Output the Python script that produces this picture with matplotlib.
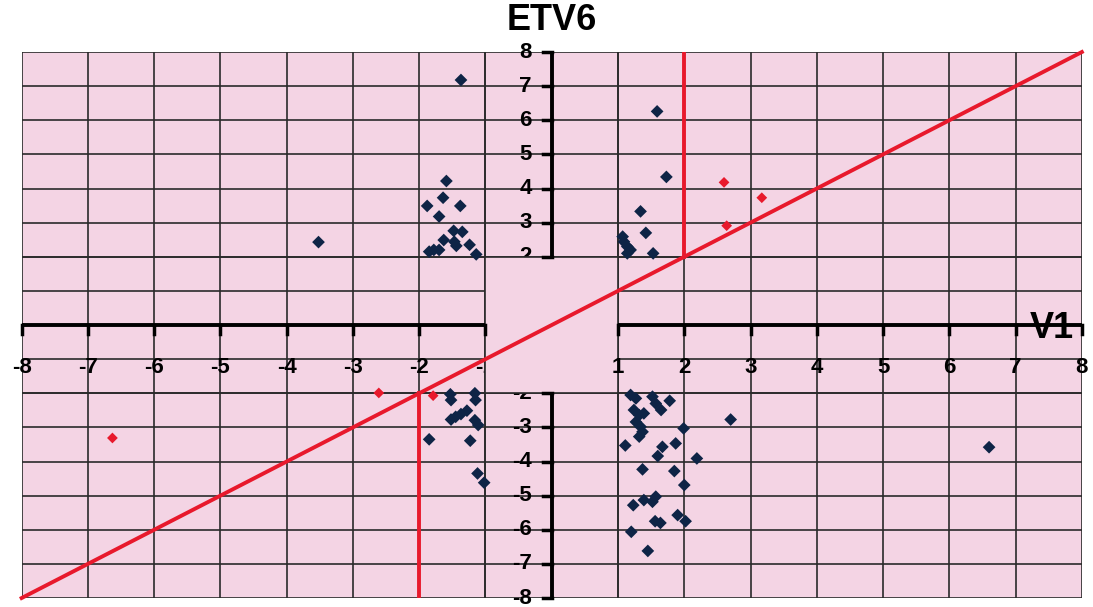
import numpy as np
import matplotlib.pyplot as plt
from matplotlib.patches import Rectangle

plt.rcParams['font.family'] = ['Liberation Sans', 'DejaVu Sans']

# Black points: V1 vs ETV6 values
blue_x = [-1.37, -3.52, -1.59, -1.64, -1.88, -1.38, -1.70, -1.48, -1.35, -1.63,
          -1.47, -1.44, -1.24, -1.14, -1.85, -1.78, -1.70,
          1.59, 1.73, 1.34, 1.42, 1.07, 1.09, 1.14, 1.19, 1.14, 1.53,
          -1.53, -1.52, -1.16, -1.15, -1.52, -1.45, -1.37, -1.28, -1.16, -1.11,
          -1.85, -1.23, -1.12, -1.02,
          1.19, 1.27, 1.52, 1.57, 1.65, 1.24, 1.32, 1.39, 1.27, 1.34, 1.37, 1.32,
          1.78, 2.70, 1.99, 1.11, 1.67, 1.87, 1.60, 2.19, 1.37, 1.85, 2.00,
          1.57, 1.52, 1.39, 1.23, 1.90, 2.02, 1.56, 1.64, 1.20, 1.45, 6.60]
blue_y = [7.18, 2.43, 4.22, 3.73, 3.49, 3.49, 3.18, 2.76, 2.73, 2.49,
          2.44, 2.32, 2.35, 2.07, 2.15, 2.20, 2.20,
          6.26, 4.34, 3.33, 2.70, 2.59, 2.44, 2.30, 2.20, 2.10, 2.10,
          -2.03, -2.20, -2.00, -2.20, -2.77, -2.69, -2.61, -2.51, -2.79, -2.93,
          -3.35, -3.39, -4.35, -4.62,
          -2.05, -2.15, -2.10, -2.30, -2.49, -2.49, -2.64, -2.59, -2.84, -2.98, -3.13, -3.27,
          -2.22, -2.77, -3.03, -3.53, -3.57, -3.47, -3.84, -3.91, -4.23, -4.28, -4.69,
          -5.03, -5.18, -5.13, -5.28, -5.57, -5.75, -5.75, -5.80, -6.06, -6.62, -3.58]

# Red points
red_x = [2.60, 3.17, 2.64, -2.61, -1.79, -6.63]
red_y = [4.18, 3.73, 2.91, -1.99, -2.07, -3.31]

x_ticks = [-8, -7, -6, -5, -4, -3, -2, -1, 1, 2, 3, 4, 5, 6, 7, 8]
y_ticks = [-8, -7, -6, -5, -4, -3, -2, 2, 3, 4, 5, 6, 7, 8]

RED = '#e8192c'
NAVY = '#0e2446'
PINK = '#f4d4e4'

fig = plt.figure(figsize=(10.93, 6.07), dpi=100)
ax = fig.add_axes([0.0198, 0.0148, 0.9700, 0.8995])
ax.set_xlim(-8, 8)
ax.set_ylim(-8, 8)
ax.set_facecolor(PINK)
for s in ax.spines.values():
    s.set_visible(False)
ax.set_xticks([])
ax.set_yticks([])

# grid every unit
for v in range(-8, 9):
    ax.axvline(v, color='#2a2a2a', lw=1.2, zorder=1)
    ax.axhline(v, color='#2a2a2a', lw=1.2, zorder=1)

# empty centre block
ax.add_patch(Rectangle((-1, -2), 2, 4, facecolor=PINK, edgecolor='none', zorder=2.5))
for v in (-1, 1):
    ax.axvline(v, color='#2a2a2a', lw=1.2, zorder=2.6)
for v in (-2, 2):
    ax.axhline(v, color='#2a2a2a', lw=1.2, zorder=2.6)

# axis lines with gaps around the centre
ax.plot([-8, -1], [0, 0], color='black', lw=2.8, zorder=4, solid_capstyle='butt')
ax.plot([1, 8], [0, 0], color='black', lw=2.8, zorder=4, solid_capstyle='butt')
ax.plot([0, 0], [2, 8], color='black', lw=2.8, zorder=4, solid_capstyle='butt')
ax.plot([0, 0], [-8, -2], color='black', lw=2.8, zorder=4, solid_capstyle='butt')
for t in x_ticks:
    ax.plot([t, t], [0, -0.25], color='black', lw=2.5, zorder=4, clip_on=False)
    z = 2 if t == -1 else 3
    ax.text(t, -1.25, str(t), ha='center', va='center', fontsize=16,
            fontweight='bold', zorder=z, clip_on=False)
for t in y_ticks:
    ax.plot([0, -0.13], [t, t], color='black', lw=2.5, zorder=4, clip_on=False)
    z = 2 if abs(t) == 2 else 3
    ax.text(-0.3, t, str(t), ha='right', va='center', fontsize=16,
            fontweight='bold', zorder=z, clip_on=False)

# red reference lines
ax.plot([-8, 8], [-8, 8], color=RED, lw=2.8, zorder=6, clip_on=False)
ax.plot([2, 2], [2, 8], color=RED, lw=2.8, zorder=6)
ax.plot([-2, -2], [-8, -2], color=RED, lw=2.8, zorder=6)

ax.scatter(blue_x, blue_y, marker='D', s=42, color=NAVY, edgecolors='none', zorder=7)
ax.scatter(red_x, red_y, marker='D', s=30, color=RED, edgecolors='none', zorder=7)

ax.text(0.0, 8.92, 'ETV6', ha='center', va='center', fontsize=26,
        fontweight='bold', clip_on=False)
ax.text(7.55, -0.1, 'V1', ha='center', va='center', fontsize=26,
        fontweight='bold', zorder=8, clip_on=False)

fig.savefig('out.png', dpi=100)
